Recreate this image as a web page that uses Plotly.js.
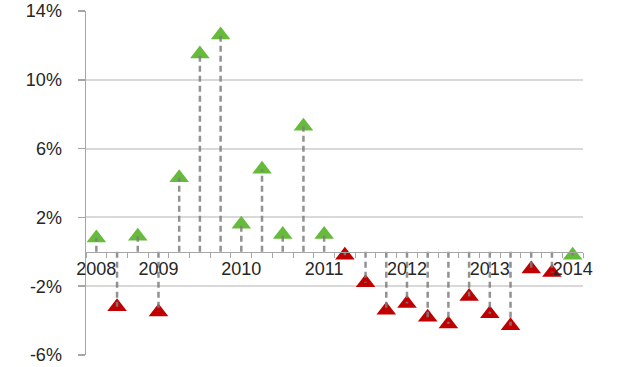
<!DOCTYPE html>
<html>
<head>
<meta charset="utf-8">
<script src="https://cdn.plot.ly/plotly-3.0.1.min.js"></script>
<style>html,body{margin:0;padding:0;background:#fff;}#chart{width:640px;height:367px;}</style>
</head>
<body>
<div id="chart"></div>
<script>
// Quarterly observations (index positions along the category axis)
const quarterIndex = [0,1,2,3,4,5,6,7,8,9,10,11,12,13,14,15,16,17,18,19,20,21,22,23];
// Values (%) of the "up" (green) series, null where the quarter belongs to the other series
const greenValues = [0.8,null,0.9,null,4.3,11.5,12.6,1.6,4.8,1.0,7.3,1.0,null,null,null,null,null,null,null,null,null,null,null,-0.2];
// Values (%) of the "down" (red) series
const redValues   = [null,-3.2,null,-3.5,null,null,null,null,null,null,null,null,-0.2,-1.8,-3.4,-3.0,-3.8,-4.2,-2.6,-3.6,-4.3,-1.0,-1.2,null];
// Year tick labels and where they sit
const yearLabels = ['2008','2009','2010','2011','2012','2013','2014'];
const yearPositions = [0,3,7,11,15,19,23];
const yTicks = [-6,-2,2,6,10,14];
const yTickText = ['-6%','-2%','2%','6%','10%','14%'];

// Drop lines from zero to each value
const stemX = [], stemY = [];
quarterIndex.forEach((q, i) => {
  const v = greenValues[i] !== null ? greenValues[i] : redValues[i];
  if (v === null || v === undefined) return;
  stemX.push(q, q, null);
  stemY.push(0, v, null);
});

const traces = [
  {x: quarterIndex, y: greenValues, mode: 'markers', type: 'scatter', showlegend: false,
   marker: {symbol: 'triangle-up', size: 17, color: '#66bb3a', line: {width: 0}}},
  {x: quarterIndex, y: redValues, mode: 'markers', type: 'scatter', showlegend: false,
   marker: {symbol: 'triangle-up', size: 17, color: '#c00000', line: {width: 0}}},
  {x: stemX, y: stemY, mode: 'lines', type: 'scatter', hoverinfo: 'skip', opacity: 0.85,
   line: {color: '#7f7f7f', width: 2.5, dash: '6px,4px'}, showlegend: false}
];

const font = {family: '"Liberation Sans", Arial, sans-serif', size: 18, color: '#262626'};

const layout = {
  width: 640, height: 367,
  margin: {l: 86, r: 57, t: 11, b: 12, pad: 0},
  paper_bgcolor: '#ffffff', plot_bgcolor: '#ffffff',
  font: font,
  showlegend: false,
  xaxis: {
    range: [-0.5, 23.5],
    anchor: 'free', position: 0.3,
    showgrid: false, zeroline: false,
    showline: true, linecolor: '#a6a6a6', linewidth: 1.5,
    tickmode: 'array', tickvals: yearPositions, ticktext: yearLabels,
    ticks: '', ticklen: 0,
    tickfont: font,
    minor: {tickmode: 'linear', tick0: -0.5, dtick: 1, ticks: 'outside', ticklen: 5, tickcolor: '#a6a6a6', tickwidth: 1, showgrid: false},
    layer: 'above traces'
  },
  yaxis: {
    range: [-6, 14],
    tickmode: 'array', tickvals: yTicks, ticktext: yTickText,
    ticks: 'outside', ticklen: 7, tickcolor: '#a6a6a6', tickwidth: 1.5,
    ticklabelstandoff: 12,
    showgrid: true, gridcolor: '#d9d9d9', gridwidth: 2,
    zeroline: false,
    showline: true, linecolor: '#a6a6a6', linewidth: 1.5,
    tickfont: font
  }
};

Plotly.newPlot('chart', traces, layout, {displayModeBar: false, staticPlot: true});
</script>
</body>
</html>
